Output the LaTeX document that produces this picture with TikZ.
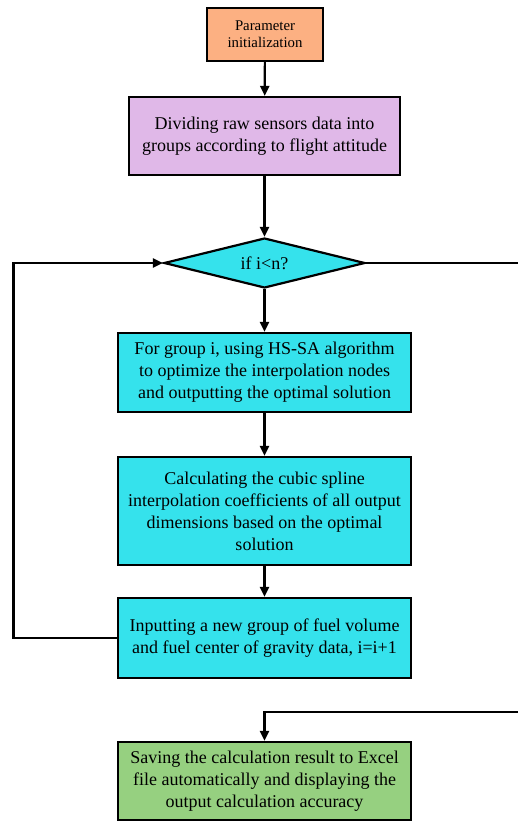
\documentclass[tikz,border=0pt]{standalone}
\usepackage{fontspec}
\setmainfont{Liberation Serif}
\usetikzlibrary{shapes.geometric,arrows.meta}
\definecolor{orangefill}{RGB}{252,176,130}
\definecolor{lavfill}{RGB}{224,184,232}
\definecolor{cyanfill}{RGB}{53,226,236}
\definecolor{greenfill}{RGB}{150,208,128}
\begin{document}
\begin{tikzpicture}[x=1pt,y=-1pt,
  box/.style={draw=black,line width=2.2pt,inner sep=0pt,align=center,
    font=\fontsize{18}{22}\selectfont,text=black},
  smallbox/.style={box,font=\fontsize{14.8}{17}\selectfont},
  decision/.style={draw=black,line width=2.2pt,shape=diamond,inner sep=0pt,
    aspect=4,font=\fontsize{18}{22}\selectfont,fill=cyanfill},
  conn/.style={line width=2.2pt,draw=black},
  arr/.style={conn,-{Triangle[length=10pt,width=9pt]}}]
\clip (0,0) rectangle (518,821);
\node[smallbox,fill=orangefill,minimum width=116pt,minimum height=53pt] (init) at (265,34.5) {Parameter\\initialization};
\node[box,fill=lavfill,minimum width=271pt,minimum height=78pt] (divide) at (264.5,136) {Dividing raw sensors data into\\groups according to flight attitude};
\node[decision,minimum width=201pt,minimum height=50pt] (cond) at (264.5,263) {if i<n?};
\node[box,fill=cyanfill,minimum width=293pt,minimum height=79pt] (opt) at (264.5,372.5) {For group i, using HS-SA algorithm\\to optimize the interpolation nodes\\and outputting the optimal solution};
\node[box,fill=cyanfill,minimum width=293pt,minimum height=108pt] (coef) at (264.5,511) {Calculating the cubic spline\\interpolation coefficients of all output\\dimensions based on the optimal\\solution};
\node[box,fill=cyanfill,minimum width=293pt,minimum height=80pt] (input) at (264.5,638) {Inputting a new group of fuel volume\\and fuel center of gravity data, i=i+1};
\node[box,fill=greenfill,minimum width=293pt,minimum height=78pt] (save) at (264.5,781) {Saving the calculation result to Excel\\file automatically and displaying the\\output calculation accuracy};
\coordinate (l1) at (13.5,638);
\coordinate (l2) at (13.5,263);
\coordinate (r1) at (530,263);
\coordinate (r2) at (530,712);
\draw[arr] (init) -- (divide);
\draw[arr] (divide) -- (cond);
\draw[arr] (cond) -- (opt);
\draw[arr] (opt) -- (coef);
\draw[arr] (coef) -- (input);
\draw[arr] (input.west) -- (l1) -- (l2) -- (cond.west);
\draw[arr] (cond.east) -- (r1) -- (r2) -| (save.north);
\end{tikzpicture}
\end{document}
